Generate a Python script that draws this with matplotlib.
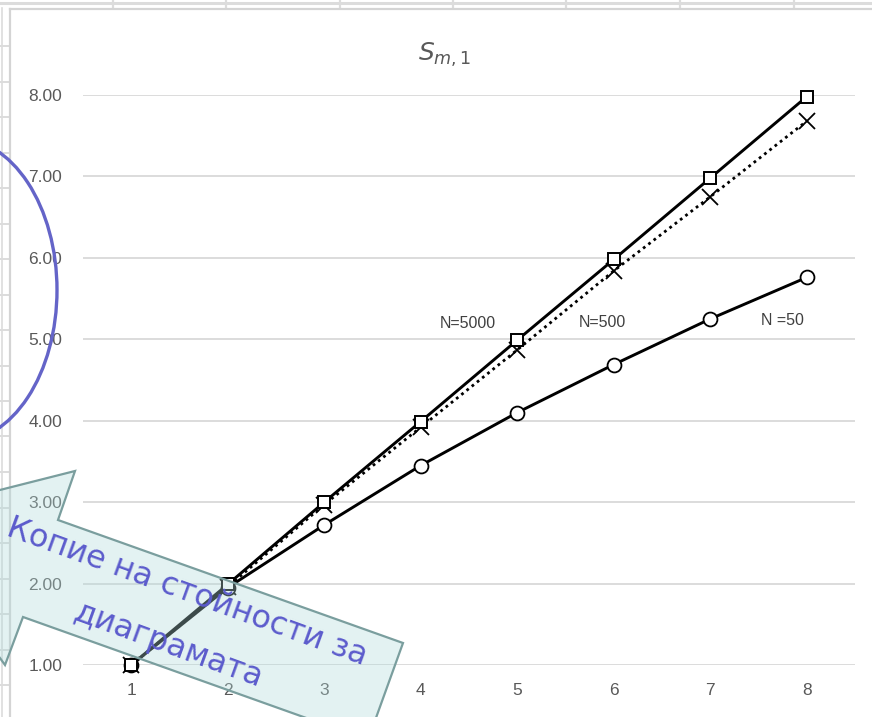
import matplotlib
matplotlib.use("Agg")
import matplotlib.pyplot as plt
from matplotlib.patches import Polygon, Ellipse
from matplotlib.lines import Line2D

# ---- data ----
m_values = [1, 2, 3, 4, 5, 6, 7, 8]
s_n5000 = [1.00, 1.99, 3.00, 3.99, 4.99, 5.98, 6.98, 7.98]
s_n500 = [1.00, 1.96, 2.97, 3.92, 4.87, 5.84, 6.75, 7.68]
s_n50 = [1.00, 1.95, 2.72, 3.45, 4.10, 4.69, 5.25, 5.76]
y_ticks = [1, 2, 3, 4, 5, 6, 7, 8]
series_labels = ["N=5000", "N=500", "N =50"]
callout_lines = ["Копие на стойности за", "диаграмата"]

W, H = 872, 717
fig = plt.figure(figsize=(W / 100, H / 100), dpi=100)
fig.patch.set_facecolor("white")


def px(x, y):
    return (x / W, 1 - y / H)


cell_col = "#dcdcdc"
# spreadsheet cell lines (background)
fig.add_artist(Line2D([0, 1], [px(0, 2.5)[1]] * 2, color=cell_col, lw=2.2, transform=fig.transFigure))
for cx in [113, 226, 340, 453, 566, 680, 794]:
    fig.add_artist(Line2D([px(cx, 0)[0]] * 2, [px(0, 0)[1], px(0, 8)[1]], color=cell_col, lw=1.6,
                          transform=fig.transFigure))
fig.add_artist(Line2D([px(2, 0)[0]] * 2, [px(0, 8)[1], 0], color=cell_col, lw=1.2, transform=fig.transFigure))
ry = 46
while ry < H:
    fig.add_artist(Line2D([px(0, 0)[0], px(10, 0)[0]], [px(0, ry)[1]] * 2, color=cell_col, lw=1.4,
                          transform=fig.transFigure))
    ry += 35.5
# chart area border
fig.add_artist(Line2D([px(10, 0)[0], 1], [px(0, 8.5)[1]] * 2, color="#d4d4d4", lw=1.6, transform=fig.transFigure))
fig.add_artist(Line2D([px(10, 0)[0]] * 2, [px(0, 8.5)[1], 0], color="#d4d4d4", lw=1.6, transform=fig.transFigure))

# ---- axes ----
ax = fig.add_axes([83 / W, 1 - 665 / H, (855 - 83) / W, (665 - 95) / H])
ax.set_facecolor("none")
ax.set_xlim(0.5, 8.5)
ax.set_ylim(1, 8)
for s in ax.spines.values():
    s.set_visible(False)
ax.set_yticks(y_ticks)
ax.set_yticklabels([f"{v:.2f}" for v in y_ticks])
ax.set_xticks(m_values)
ax.set_xticklabels([str(v) for v in m_values])
ax.tick_params(length=0, labelsize=12.5, labelcolor="#595959")
ax.tick_params(axis="y", pad=15)
ax.tick_params(axis="x", pad=13)
for lab in ax.get_xticklabels() + ax.get_yticklabels():
    lab.set_family("Liberation Sans")
ax.yaxis.grid(True, color="#d9d9d9", lw=1.3)
ax.set_axisbelow(True)

ax.plot(m_values, s_n5000, color="black", lw=2.1, marker="s", ms=9, mfc="white", mec="black", mew=1.4,
        clip_on=False, zorder=4)
ax.plot(m_values, s_n500, color="black", lw=2.0, ls=(0, (1, 1.4)), marker="x", ms=11, mec="black", mew=1.3,
        clip_on=False, zorder=3)
ax.plot(m_values, s_n50, color="black", lw=2.1, marker="o", ms=10, mfc="white", mec="black", mew=1.3,
        clip_on=False, zorder=3)

label_pos = [(4.49, 5.20), (5.88, 5.21), (7.75, 5.23)]
for (lx, ly), t in zip(label_pos, series_labels):
    ax.text(lx, ly, t, ha="center", va="center", fontsize=11.5, color="#404040", family="Liberation Sans")

fig.text(*px(445, 55), r"$S_{m,1}$", ha="center", va="center", fontsize=18, color="#595959",
         math_fontfamily="dejavusans")

# ---- overlays ----
ell = Ellipse(px(-43, 290), 200 / W, 304 / H, transform=fig.transFigure, fill=False,
              edgecolor="#6464c8", lw=2.4, zorder=10)
fig.add_artist(ell)

arrow_pts = [(-103, 516), (75, 471), (58, 520), (403, 643), (368, 740), (23, 617), (5, 665)]
arrow = Polygon([px(x, y) for x, y in arrow_pts], closed=True, transform=fig.transFigure,
                facecolor=(0.69, 0.855, 0.855, 0.35), edgecolor="#7a9e9e", lw=1.6, zorder=11)
fig.add_artist(arrow)

fig.text(*px(187, 592), callout_lines[0], rotation=-20, rotation_mode="anchor", ha="center", va="center",
         fontsize=22.8, color="#5b5bcc", family="DejaVu Sans", zorder=12)
fig.text(*px(168, 645), callout_lines[1], rotation=-20, rotation_mode="anchor", ha="center", va="center",
         fontsize=22.8, color="#5b5bcc", family="DejaVu Sans", zorder=12)

fig.savefig("out.png", dpi=100)
